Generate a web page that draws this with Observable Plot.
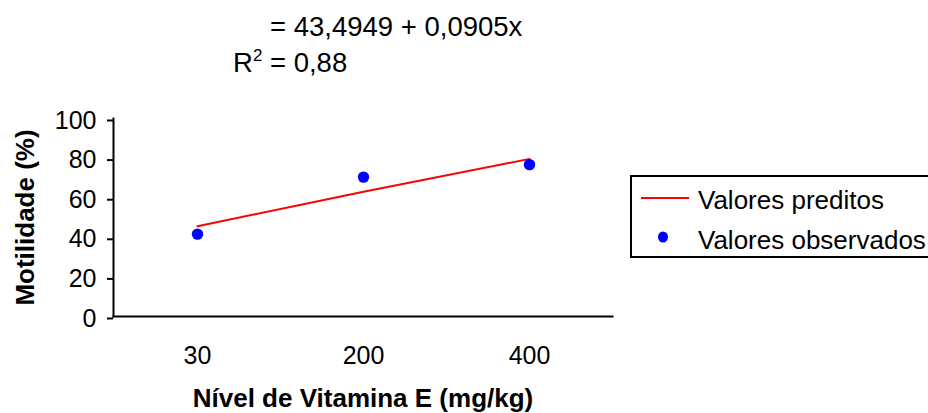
<!DOCTYPE html>
<html>
<head>
<meta charset="utf-8">
<script src="https://cdn.jsdelivr.net/npm/d3@7"></script>
<script src="https://cdn.jsdelivr.net/npm/@observablehq/plot@0.6"></script>
<style>
  html, body { margin: 0; padding: 0; background: #fff; overflow: hidden; }
  #wrap { position: relative; width: 928px; height: 413px; font-family: "Liberation Sans", Arial, sans-serif; }
  #overlay { position: absolute; left: 0; top: 0; pointer-events: none; }
</style>
</head>
<body>
<div id="wrap"></div>
<script>
// Data
const levels = ["30", "200", "400"];
const observed = [41.6, 70.4, 76.7];
const predicted = [45.6, 63.0, 79.6];
const yTicks = [0, 20, 40, 60, 80, 100];

const equationText = "= 43,4949 + 0,0905x";
const r2Text = " = 0,88";
const xLabel = "Nível de Vitamina E (mg/kg)";
const yLabel = "Motilidade (%)";
const legendLabels = ["Valores preditos", "Valores observados"];

const rows = levels.map((l, i) => ({level: l, obs: observed[i], pred: predicted[i]}));

const chart = Plot.plot({
  width: 928,
  height: 413,
  marginLeft: 113,
  marginRight: 316,
  marginTop: 118,
  marginBottom: 97,
  style: {fontFamily: "Liberation Sans, Arial, sans-serif", background: "#fff", color: "#000"},
  x: {type: "band", domain: levels, padding: 0},
  y: {domain: [0, 100]},
  marks: [
    Plot.axisY({ticks: yTicks, tickSize: 6, tickPadding: 11, fontSize: 25, strokeWidth: 2, label: null, dy: 2}),
    Plot.axisX({tickSize: 0, tickPadding: 30, fontSize: 25, label: null}),
    Plot.frame({anchor: "left", strokeWidth: 2}),
    Plot.frame({anchor: "bottom", strokeWidth: 2}),
    Plot.line(rows, {x: "level", y: "pred", stroke: "#ff0000", strokeWidth: 2}),
    Plot.dot(rows, {x: "level", y: "obs", r: 5.7, fill: "#0000ff", stroke: null}),
    Plot.text([xLabel], {frameAnchor: "bottom", dy: 82, textAnchor: "middle", lineAnchor: "middle", fontSize: 26, fontWeight: "bold", fill: "#000"}),
    Plot.text([yLabel], {frameAnchor: "left", dx: -88, rotate: -90, textAnchor: "middle", lineAnchor: "middle", fontSize: 26, fontWeight: "bold", fill: "#000"})
  ]
});

const wrap = document.getElementById("wrap");
wrap.appendChild(chart);

// Overlay: regression annotation and legend
const ov = d3.select(wrap).append("svg")
  .attr("id", "overlay")
  .attr("width", 928).attr("height", 413)
  .style("font-family", "Liberation Sans, Arial, sans-serif");

ov.append("text").attr("x", 270).attr("y", 36).attr("font-size", 27.5).attr("fill", "#000").text(equationText);
const r2 = ov.append("text").attr("x", 233).attr("y", 72).attr("font-size", 27.5).attr("fill", "#000");
r2.append("tspan").text("R");
r2.append("tspan").attr("dy", -11).attr("font-size", 17).text("2");
r2.append("tspan").attr("dy", 11).text(r2Text);

const lg = ov.append("g");
lg.append("rect").attr("x", 631).attr("y", 176).attr("width", 320).attr("height", 81)
  .attr("fill", "#fff").attr("stroke", "#000").attr("stroke-width", 2);
lg.append("line").attr("x1", 641).attr("x2", 689).attr("y1", 198).attr("y2", 198)
  .attr("stroke", "#ff0000").attr("stroke-width", 2);
lg.append("ellipse").attr("cx", 663).attr("cy", 237).attr("rx", 5).attr("ry", 5.5).attr("fill", "#0000ff");
lg.append("text").attr("x", 698).attr("y", 209).attr("font-size", 26).attr("fill", "#000").text(legendLabels[0]);
lg.append("text").attr("x", 698).attr("y", 249).attr("font-size", 26).attr("fill", "#000").text(legendLabels[1]);
</script>
</body>
</html>
